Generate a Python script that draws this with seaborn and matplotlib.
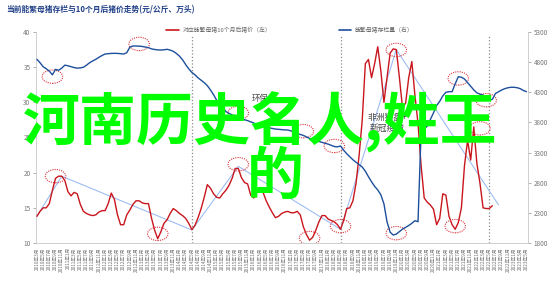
import numpy as np
import pandas as pd
import matplotlib
matplotlib.use("Agg")
import matplotlib.pyplot as plt
import seaborn as sns
from matplotlib.patches import Ellipse
from matplotlib.lines import Line2D

# ---------------- data ----------------
periods = pd.period_range("2010-03", "2023-05", freq="M")
month_labels = [f"{p.year}年{p.month}月" for p in periods]

# price of hogs 10 months later (left axis, 元/公斤), monthly from 2010-03
price_10m_later = [
    13.8, 14.5, 15.0, 15.0, 15.6, 17.5, 19.2, 19.5, 19.5, 18.9,
    17.3, 16.7, 17.2, 17.0, 15.5, 14.5, 14.2, 14.0, 13.9, 14.0,
    14.4, 14.6, 14.6, 15.6, 17.1, 16.2, 14.0, 12.6, 12.6, 14.0,
    14.7, 15.5, 16.0, 16.0, 15.7, 15.6, 15.6, 13.5, 11.8, 10.6,
    11.6, 12.8, 13.3, 14.2, 14.9, 14.6, 14.2, 13.9, 13.5, 12.8,
    11.9, 12.5, 13.6, 14.9, 16.5, 18.3, 17.8, 17.0, 16.5, 16.4,
    17.0, 17.5, 18.2, 19.2, 20.6, 20.6, 19.3, 18.6, 18.4, 16.8,
    16.4, 17.2, 17.9, 17.2, 16.0, 15.1, 14.3, 13.6, 13.8, 14.2,
    14.4, 14.5, 14.3, 14.3, 14.5, 14.0, 12.3, 11.2, 10.4, 10.8,
    11.8, 13.0, 13.9, 13.9, 13.4, 13.2, 13.0, 12.6, 11.95, 13.2,
    14.9, 15.0, 16.0, 18.5, 22.5, 27.5, 35.5, 36.1, 33.5, 35.5,
    37.9, 34.5, 30.0, 33.5, 37.0, 37.6, 37.5, 33.5, 29.2, 29.9,
    33.5, 35.8, 31.0, 27.0, 21.0, 16.4, 15.8, 15.4, 14.8, 12.6,
    13.5, 17.0, 16.8, 13.8, 12.6, 11.95, 12.9, 15.0, 21.0, 24.6,
    21.8, 26.5, 21.3, 18.5, 15.0, 14.9, 14.9, 15.3,
]

# breeding sow inventory (right axis, 万头), monthly from 2010-03
sow_inventory = [
    4847, 4790, 4724, 4690, 4650, 4590, 4680, 4665, 4700, 4750,
    4740, 4725, 4710, 4700, 4705, 4715, 4750, 4790, 4820, 4847,
    4880, 4910, 4935, 4940, 4945, 4946, 4945, 4940, 4935, 4957,
    5050, 5068, 5068, 5065, 5060, 5050, 5040, 5020, 5010, 5003,
    5001, 5005, 5013, 5000, 4980, 4945, 4900, 4840, 4760, 4690,
    4630, 4590, 4540, 4500, 4460, 4410, 4340, 4260, 4170, 4110,
    4050, 3980, 3950, 3925, 3905, 3880, 3860, 3845, 3830, 3810,
    3790, 3765, 3750, 3735, 3720, 3710, 3700, 3690, 3685, 3680,
    3676, 3674, 3660, 3640, 3620, 3600, 3585, 3560, 3535, 3520,
    3505, 3485, 3470, 3455, 3440, 3420, 3400, 3395, 3409, 3340,
    3280, 3230, 3180, 3140, 3100, 3060, 2990, 2900, 2816, 2740,
    2680, 2600, 2450, 2150, 1980, 1932, 1948, 1990, 2030, 2060,
    2090, 2126, 2170, 2153, 3650, 3690, 3740, 3850, 3960, 4080,
    4150, 4240, 4300, 4310, 4310, 4440, 4558, 4550, 4520, 4460,
    4400, 4340, 4290, 4270, 4255, 4200, 4172, 4183, 4280, 4310,
    4338, 4360, 4375, 4383, 4383, 4376, 4360, 4330, 4310,
]

# trend line through the price peaks / troughs
trend_months = ["2010年3月", "2010年11月", "2014年5月", "2015年8月",
                "2018年5月", "2019年11月", "2022年8月"]
trend_values = [13.8, 19.5, 11.85, 20.9, 11.95, 37.5, 15.4]

# highlighted turning points (month, value on left-axis scale)
circle_months = ["2010年8月", "2012年12月", "2010年9月", "2013年6月",
                 "2015年8月", "2015年8月", "2017年5月", "2018年3月",
                 "2017年7月", "2018年5月", "2019年11月", "2019年11月",
                 "2021年6月", "2021年7月", "2022年4月", "2022年2月"]
circle_values = [33.65, 38.3, 19.5, 11.3, 21.2, 28.5, 25.9, 23.8,
                 10.7, 12.4, 37.45, 11.4, 12.4, 33.4, 30.3, 26.3]

cycle_marks = ["2014年5月", "2018年5月", "2022年5月"]

left_ticks = [10, 15, 20, 25, 30, 35, 40]
right_ticks = [1800, 2300, 2800, 3300, 3800, 4300, 4800, 5300]

title = "当前能繁母猪存栏与10个月后猪价走势(元/公斤、万头)"
label_price = "对应能繁母猪10个月后猪价（左）"
label_sow = "能繁母猪存栏量（右）"
note_env = "环保"
note_asf = "非洲猪瘟+\n新冠疫情"
overlay_line1 = "河南历史名人,姓王"
overlay_line2 = "的"

# ---------------- build frames ----------------
pos = {lab: i for i, lab in enumerate(month_labels)}
df_price = pd.DataFrame({"x": np.arange(len(price_10m_later)), "v": price_10m_later})
df_sow = pd.DataFrame({"x": np.arange(len(sow_inventory)), "v": sow_inventory})
df_trend = pd.DataFrame({"x": [pos[m] for m in trend_months], "v": trend_values})

sns.set_theme(style="white")
plt.rcParams["font.family"] = ["Noto Sans CJK SC", "DejaVu Sans"]

RED = "#c9161d"
BLUE = "#1d4f9c"
GRAY = "#777777"

fig = plt.figure(figsize=(5.53, 2.81), dpi=100)
ax = fig.add_axes([36 / 553, 1 - 243 / 281, (528 - 36) / 553, (243 - 32) / 281])
ax2 = ax.twinx()

sns.lineplot(data=df_trend, x="x", y="v", ax=ax, color="#9dbdf3", lw=0.8, zorder=2)
sns.lineplot(data=df_price, x="x", y="v", ax=ax, color=RED, lw=1.0, zorder=3)
sns.lineplot(data=df_sow, x="x", y="v", ax=ax2, color=BLUE, lw=1.0, zorder=3)

for m in cycle_marks:
    ax.axvline(pos[m], ymin=0, ymax=0.985, color="#8a8a8a", ls=":", lw=0.9, zorder=1)

for m, v in zip(circle_months, circle_values):
    ax.add_patch(Ellipse((pos[m], v), width=6.6, height=1.9, fill=False,
                         edgecolor="#d9363e", ls=(0, (1, 1)), lw=0.8, zorder=5))

ax.set_xlim(-0.3, 158.5)
ax.set_ylim(10, 40)
ax2.set_ylim(1800, 5300)
ax.set_yticks(left_ticks)
ax2.set_yticks(right_ticks)
ax.set_xticks(np.arange(0, len(month_labels), 2))
ax.set_xticklabels(month_labels[::2], rotation=90, fontsize=3.4, color=GRAY)
ax.tick_params(axis="x", length=1.5, width=0.4, color="#bbbbbb", pad=1.5)
ax.tick_params(axis="y", labelsize=4.6, colors=GRAY, length=2, width=0.4, pad=2)
ax2.tick_params(axis="y", labelsize=4.6, colors=GRAY, length=2, width=0.4, pad=2)
for a in (ax, ax2):
    a.set_xlabel("")
    a.set_ylabel("")
    for s in a.spines.values():
        s.set_visible(False)
ax.spines["left"].set_visible(True)
ax.spines["bottom"].set_visible(True)
ax2.spines["right"].set_visible(True)
for s in (ax.spines["left"], ax.spines["bottom"], ax2.spines["right"]):
    s.set_color("#c8c8c8")
    s.set_linewidth(0.6)
ax.grid(False)
ax2.grid(False)

# title & legend
fig.text(6 / 553, 1 - 10 / 281, title, fontsize=5.6, fontweight="bold",
         color="#1f3f86", ha="left", va="center")
handles = [Line2D([], [], color=RED, lw=1.2), Line2D([], [], color=BLUE, lw=1.2)]
fig.legend(handles, [label_price, label_sow], ncol=2, frameon=False,
           loc="center", bbox_to_anchor=(290 / 553, 1 - 30 / 281),
           fontsize=4.2, labelcolor="#666666", handlelength=2.2,
           columnspacing=11.5, handletextpad=0.6)

# annotations
ax.text(pos["2016年3月"], 30.6, note_env, fontsize=6, color="#444444",
        ha="center", va="center", zorder=6)
ax.text(pos["2019年8月"], 27.1, note_asf, fontsize=6.3, color="#444444",
        ha="center", va="center", linespacing=1.3, zorder=6)

# overlay text
fig.text(260 / 553, 1 - 122 / 281, overlay_line1, fontsize=41, color="#00ff00",
         fontweight="bold", ha="center", va="center", zorder=10)
fig.text(275 / 553, 1 - 177 / 281, overlay_line2, fontsize=41, color="#00ff00",
         fontweight="bold", ha="center", va="center", zorder=10)

fig.savefig("out.png", dpi=100)
